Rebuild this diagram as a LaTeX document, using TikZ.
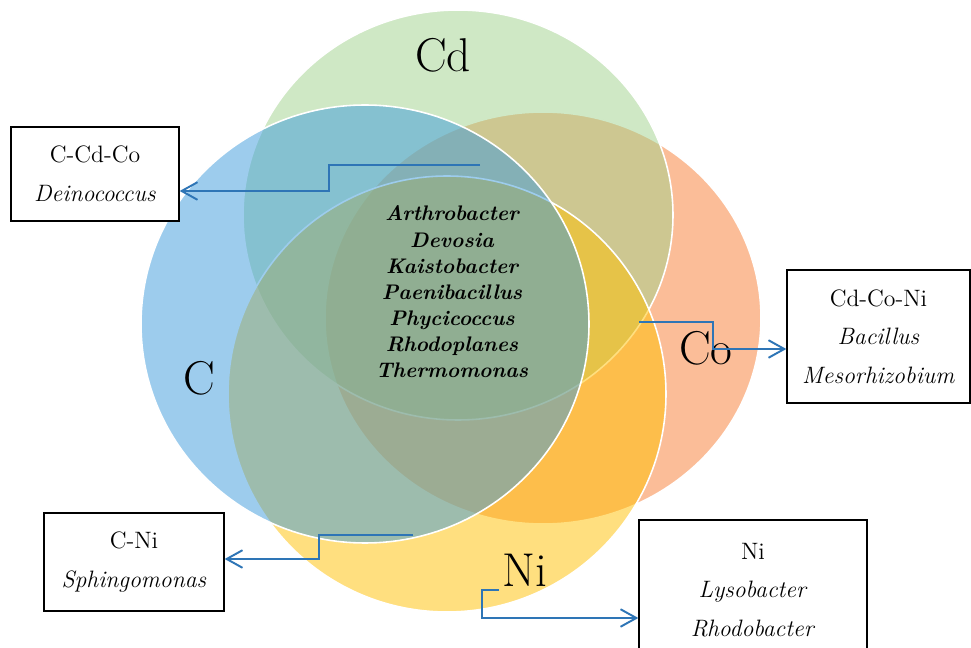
\documentclass[tikz,border=0pt]{standalone}
\usepackage{xcolor}
\usetikzlibrary{arrows.meta,positioning}

\definecolor{cdgreen}{RGB}{160,210,140}
\definecolor{cblue}{RGB}{60,155,220}
\definecolor{coorange}{RGB}{248,125,50}
\definecolor{niyellow}{RGB}{255,192,0}
\definecolor{linkblue}{RGB}{46,117,182}

\begin{document}
\begin{tikzpicture}[
    x=0.02cm, y=-0.02cm,
    set/.style={draw=white, line width=0.9pt, fill opacity=0.5},
    metal/.style={anchor=base, font=\fontsize{27}{27}\selectfont},
    infobox/.style={draw, line width=0.8pt, fill=white, align=center, inner sep=0pt, font=\fontsize{13.5}{22}\selectfont},
    link/.style={draw=linkblue, line width=1.1pt, -{Straight Barb[length=9pt,width=10pt]}}
]
\clip (0,0) rectangle (971,648);
\fill[white] (0,0) rectangle (971,648);

% Sets
\path[set, fill=coorange] (543,318) ellipse [x radius=218, y radius=206];
\path[set, fill=cdgreen] (458,215) ellipse [x radius=215, y radius=205];
\path[set, fill=niyellow] (447,394) ellipse [x radius=219, y radius=218];
\path[set, fill=cblue] (365,324) ellipse [x radius=224, y radius=219];

\node[metal] (cd_label) at (443,72) {Cd};
\node[metal] (c_label) at (199,395) {C};
\node[metal] (co_label) at (706,365) {Co};
\node[metal] (ni_label) at (525,586) {Ni};

\node[align=center, font=\fontsize{12}{14.9}\selectfont\bfseries\itshape] (core) at (452,292)
    {Arthrobacter\\Devosia\\Kaistobacter\\Paenibacillus\\Phycicoccus\\Rhodoplanes\\Thermomonas};

% Boxes
\node[infobox, minimum width=3.36cm, minimum height=1.88cm] (c_cd_co) at (95,174) {C-Cd-Co\\\textit{Deinococcus}};
\node[infobox, minimum width=3.66cm, minimum height=2.66cm] (cd_co_ni) at (878.5,336.5) {Cd-Co-Ni\\\textit{Bacillus}\\\textit{Mesorhizobium}};
\node[infobox, minimum width=3.6cm, minimum height=1.96cm] (c_ni) at (134,562) {C-Ni\\\textit{Sphingomonas}};
\node[infobox, minimum width=4.56cm, minimum height=2.8cm] (ni_only) at (753,590) {Ni\\\textit{Lysobacter}\\\textit{Rhodobacter}};

% Connections
\coordinate (s1) at (480,165);
\coordinate (k1) at (329,191);
\coordinate (s2) at (639,322);
\coordinate (k2) at (713,349);
\coordinate (s3) at (413,535);
\coordinate (k3) at (319,559);
\coordinate (s4) at (499,590);
\coordinate (k4) at (482,618);
\draw[link] (s1) -| (k1) -- (k1 -| c_cd_co.east);
\draw[link] (s2) -| (k2) -- (k2 -| cd_co_ni.west);
\draw[link] (s3) -| (k3) -- (k3 -| c_ni.east);
\draw[link] (s4) -| (k4) -- (k4 -| ni_only.west);

\end{tikzpicture}
\end{document}
